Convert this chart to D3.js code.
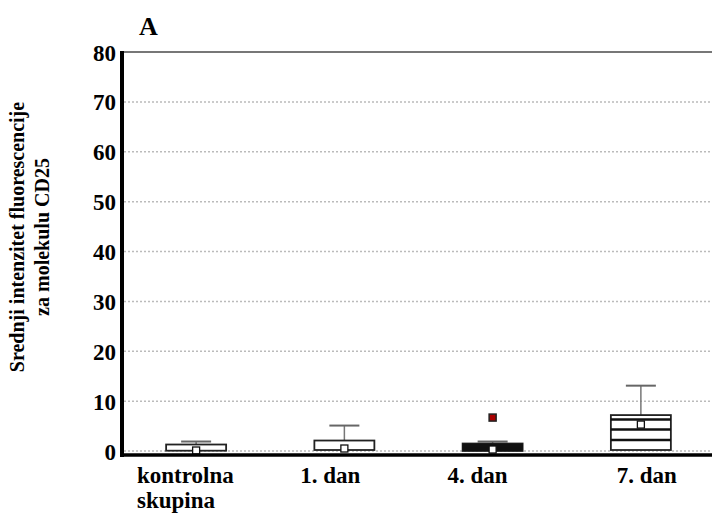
<!DOCTYPE html>
<html><head><meta charset="utf-8">
<script src="https://cdn.jsdelivr.net/npm/d3@7"></script>
<style>body{margin:0;background:#fff}text{font-family:"Liberation Serif","Times New Roman",serif;font-weight:bold;fill:#000}</style>
</head><body><svg id="c" width="712" height="517"></svg>
<script>
const categories = ["kontrolna skupina", "1. dan", "4. dan", "7. dan"];
const whiskerHigh = [1.9, 5.1, 1.9, 13.1];
const boxHigh = [1.3, 2.1, 1.5, 7.2];
const boxLow = [0.06, 0.2, 0.0, 0.2];
const innerLines = [[], [], [0.25, 0.5, 0.75, 1.0, 1.25], [6.3, 4.3, 2.2]];
const means = [0.1, 0.5, 0.3, 5.3];
const outliers = [[], [], [6.7], []];
const yTicks = [0, 10, 20, 30, 40, 50, 60, 70, 80];

const svg = d3.select("#c");
const x = d3.scaleBand().domain(categories).range([122, 715]);
const y = d3.scaleLinear().domain([0, 80]).range([451, 52]);
const cx = c => x(c) + x.bandwidth() / 2;
const bw = 60;
const labelShift = [0, -14, -15, 6];

// grid
svg.append("g").selectAll("line").data(yTicks.filter(t => t < 80)).join("line")
  .attr("x1", 124).attr("x2", 712).attr("y1", d => y(d)).attr("y2", d => y(d))
  .attr("stroke", "#bbb").attr("stroke-width", 1.5).attr("stroke-dasharray", "2,2");
svg.append("line").attr("x1", 122).attr("x2", 712).attr("y1", y(80)).attr("y2", y(80))
  .attr("stroke", "#777").attr("stroke-width", 2);

// y axis
const yAxis = d3.axisLeft(y).tickValues(yTicks).tickSize(0).tickPadding(4);
const ga = svg.append("g").attr("transform", "translate(120,0)").call(yAxis);
ga.select(".domain").remove();
ga.selectAll("text").attr("font-size", 23).attr("font-family", "Liberation Serif").attr("font-weight", "bold").attr("fill", "#000").attr("dy", "0.35em");

// boxes
categories.forEach((c, i) => {
  const g = svg.append("g");
  const X = cx(c);
  g.append("line").attr("x1", X).attr("x2", X).attr("y1", y(whiskerHigh[i])).attr("y2", y(boxHigh[i]))
    .attr("stroke", "#777").attr("stroke-width", 1.5);
  g.append("line").attr("x1", X - 15).attr("x2", X + 15).attr("y1", y(whiskerHigh[i])).attr("y2", y(whiskerHigh[i]))
    .attr("stroke", "#666").attr("stroke-width", 2);
  g.append("rect").attr("x", X - bw / 2).attr("y", y(boxHigh[i])).attr("width", bw)
    .attr("height", y(boxLow[i]) - y(boxHigh[i])).attr("fill", "#fff").attr("stroke", "#222").attr("stroke-width", 1.8);
  innerLines[i].forEach(v => {
    g.append("line").attr("x1", X - bw / 2).attr("x2", X + bw / 2).attr("y1", y(v)).attr("y2", y(v))
      .attr("stroke", "#111").attr("stroke-width", 2.5);
  });
  g.append("rect").attr("x", X - 3.5).attr("y", y(means[i]) - 3.5).attr("width", 7).attr("height", 7)
    .attr("fill", "#fff").attr("stroke", "#111").attr("stroke-width", 1.3);
  outliers[i].forEach(v => {
    g.append("rect").attr("x", X - 3.5).attr("y", y(v) - 3.5).attr("width", 7).attr("height", 7)
      .attr("fill", "#a00").attr("stroke", "#222").attr("stroke-width", 1.5);
  });
});

// axes lines
svg.append("line").attr("x1", 120).attr("x2", 712).attr("y1", 455).attr("y2", 455).attr("stroke", "#000").attr("stroke-width", 3.5);
svg.append("line").attr("x1", 122).attr("x2", 122).attr("y1", 51).attr("y2", 457).attr("stroke", "#000").attr("stroke-width", 4);

// x labels
categories.forEach((c, i) => {
  if (c === "kontrolna skupina") {
    const t = svg.append("text").attr("x", 137).attr("y", 483).attr("font-size", 23).attr("text-anchor", "start");
    c.split(" ").forEach((l, j) => t.append("tspan").attr("x", 137).attr("dy", j ? 25 : 0).text(l));
  } else {
    svg.append("text").attr("x", cx(c) + labelShift[i]).attr("y", 483).attr("font-size", 23)
      .attr("text-anchor", "middle").text(c);
  }
});

// y label
const yl = svg.append("text").attr("transform", "translate(24,237) rotate(-90)").attr("text-anchor", "middle").attr("font-size", 20);
yl.append("tspan").attr("x", 0).attr("dy", 0).text("Srednji intenzitet fluorescencije");
yl.append("tspan").attr("x", 0).attr("dy", 25).text("za molekulu CD25");

svg.append("text").attr("x", 139).attr("y", 35).attr("font-size", 26).text("A");
</script></body></html>
